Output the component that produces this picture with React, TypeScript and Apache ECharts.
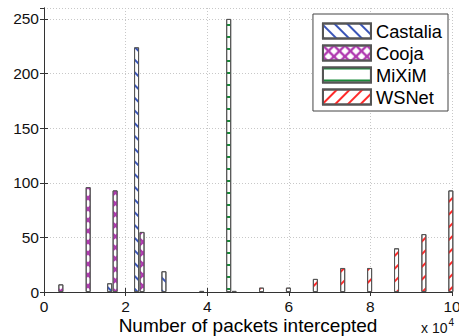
import React, { useEffect, useRef } from "react";
import * as echarts from "echarts";

// Histogram bin centres (units of 1e4 packets)
const binCenters = [0.48, 1.15, 1.81, 2.47, 3.14, 3.8, 4.46, 5.13, 5.79, 6.45, 7.12, 7.78, 8.44, 9.11, 9.77];
const seriesNames = ["Castalia", "Cooja", "MiXiM", "WSNet"];
const castalia = [0, 0, 8, 224, 19, 0, 0, 0, 0, 0, 0, 0, 0, 0, 0];
const cooja = [7, 96, 93, 55, 0, 0, 0, 0, 0, 0, 0, 0, 0, 0, 0];
const mixim = [0, 0, 0, 0, 0, 1, 250, 0, 0, 0, 0, 0, 0, 0, 0];
const wsnet = [0, 0, 0, 0, 0, 0, 1, 4, 4, 12, 22, 22, 40, 53, 93];
const xTicks = [0, 2, 4, 6, 8, 10];
const yTicks = [0, 50, 100, 150, 200, 250];

const FONT = "'Liberation Sans', Arial, Helvetica, sans-serif";

const stripe = (color: string, rotation: number, period: number) => ({
  symbol: "rect",
  symbolSize: 1,
  color,
  dashArrayX: [1, 0],
  dashArrayY: [1.3, period],
  rotation,
});

const crossPath =
  "path://M0 0 L1.5 0 L5 3.5 L8.5 0 L10 0 L10 1.5 L6.5 5 L10 8.5 L10 10 L8.5 10 L5 6.5 L1.5 10 L0 10 L0 8.5 L3.5 5 L0 1.5 Z";

const decals: any[] = [
  stripe("#3a55b8", Math.PI / 4, 6.4),
  {
    symbol: crossPath,
    symbolSize: 1,
    color: "#b03ab0",
    dashArrayX: [10.5, 0],
    dashArrayY: [10.5, 0],
    rotation: 0,
  },
  {
    symbol: "rect",
    symbolSize: 1,
    color: "#1a8a3a",
    dashArrayX: [1, 0],
    dashArrayY: [1.6, 9.6],
    rotation: 0,
  },
  stripe("#ff2a2a", -Math.PI / 4, 6.4),
];

export default function App() {
  const ref = useRef<HTMLDivElement>(null);
  useEffect(() => {
    if (!ref.current) return;
    const chart = echarts.init(ref.current, null, { renderer: "svg" });
    const allValues = [castalia, cooja, mixim, wsnet];
    const binWidth = binCenters[1] - binCenters[0];
    const barW = (0.8 * binWidth) / allValues.length;
    const series = allValues.map((vals, i) => ({
      name: seriesNames[i],
      type: "bar",
      xAxisIndex: 0,
      yAxisIndex: 0,
      barWidth: 5,
      barGap: "-100%",
      clip: false,
      data: vals
        .map((v, k) => (v > 0 ? [binCenters[k] + (i - 1.5) * barW, v] : null))
        .filter((d) => d !== null),
      itemStyle: {
        color: "#ffffff",
        borderColor: "#555555",
        borderWidth: 1,
        decal: decals[i],
      },
    }));

    const axisCommon = {
      axisLine: { show: true, lineStyle: { color: "#333", width: 1 } },
      axisTick: { show: true, inside: true, length: 4, lineStyle: { color: "#333" } },
    };

    chart.setOption({
      animation: false,
      backgroundColor: "#ffffff",
      textStyle: { fontFamily: FONT },
      grid: { left: 44, right: 7, top: 8, bottom: 44, outerBoundsMode: "none", containLabel: false },
      legend: {
        orient: "vertical",
        right: 11,
        top: 14,
        itemWidth: 48,
        itemHeight: 15,
        itemGap: 4,
        padding: [8, 6, 5, 9],
        borderColor: "#444",
        borderWidth: 1,
        backgroundColor: "#fff",
        icon: "rect",
        textStyle: { fontSize: 18.3, color: "#000", fontFamily: FONT },
        data: seriesNames,
      },
      xAxis: [
        {
          type: "value",
          position: "bottom",
          min: xTicks[0],
          max: xTicks[xTicks.length - 1],
          interval: xTicks[1] - xTicks[0],
          ...axisCommon,
          axisLabel: { fontSize: 15.5, color: "#111", margin: 6, fontFamily: FONT },
          splitLine: { show: true, lineStyle: { color: "#c8c8c8", type: [1, 2], width: 1 } },
          name: "Number of packets intercepted",
          nameLocation: "middle",
          nameGap: 24,
          nameMoveOverlap: false,
          nameTextStyle: { fontSize: 19, color: "#000", fontFamily: FONT },
        },
        {
          type: "value",
          position: "top",
          min: xTicks[0],
          max: xTicks[xTicks.length - 1],
          interval: xTicks[1] - xTicks[0],
          ...axisCommon,
          axisLabel: { show: false },
          splitLine: { show: false },
        },
      ],
      yAxis: [
        {
          type: "value",
          position: "left",
          min: yTicks[0],
          max: 260,
          interval: yTicks[1] - yTicks[0],
          ...axisCommon,
          axisLabel: {
            fontSize: 15.5,
            color: "#111",
            margin: 5,
            fontFamily: FONT,
            showMaxLabel: false,
            formatter: (v: number) => (yTicks.includes(v) ? String(v) : ""),
          },
          splitLine: { show: true, lineStyle: { color: "#c8c8c8", type: [1, 2], width: 1 } },
        },
        {
          type: "value",
          position: "right",
          min: yTicks[0],
          max: 260,
          interval: yTicks[1] - yTicks[0],
          ...axisCommon,
          axisLabel: { show: false },
          splitLine: { show: false },
        },
      ],
      graphic: [
        {
          type: "text",
          x: 421,
          y: 328,
          style: { text: "x 10", fontSize: 14, fill: "#111", fontFamily: FONT, verticalAlign: "middle" },
        },
        {
          type: "text",
          x: 448.5,
          y: 322.5,
          style: { text: "4", fontSize: 10, fill: "#111", fontFamily: FONT, verticalAlign: "middle" },
        },
      ],
      series,
    });
    return () => chart.dispose();
  }, []);
  return (
    <div
      ref={ref}
      style={{ position: "fixed", left: 0, top: 0, width: 459, height: 336, background: "#fff" }}
    />
  );
}
